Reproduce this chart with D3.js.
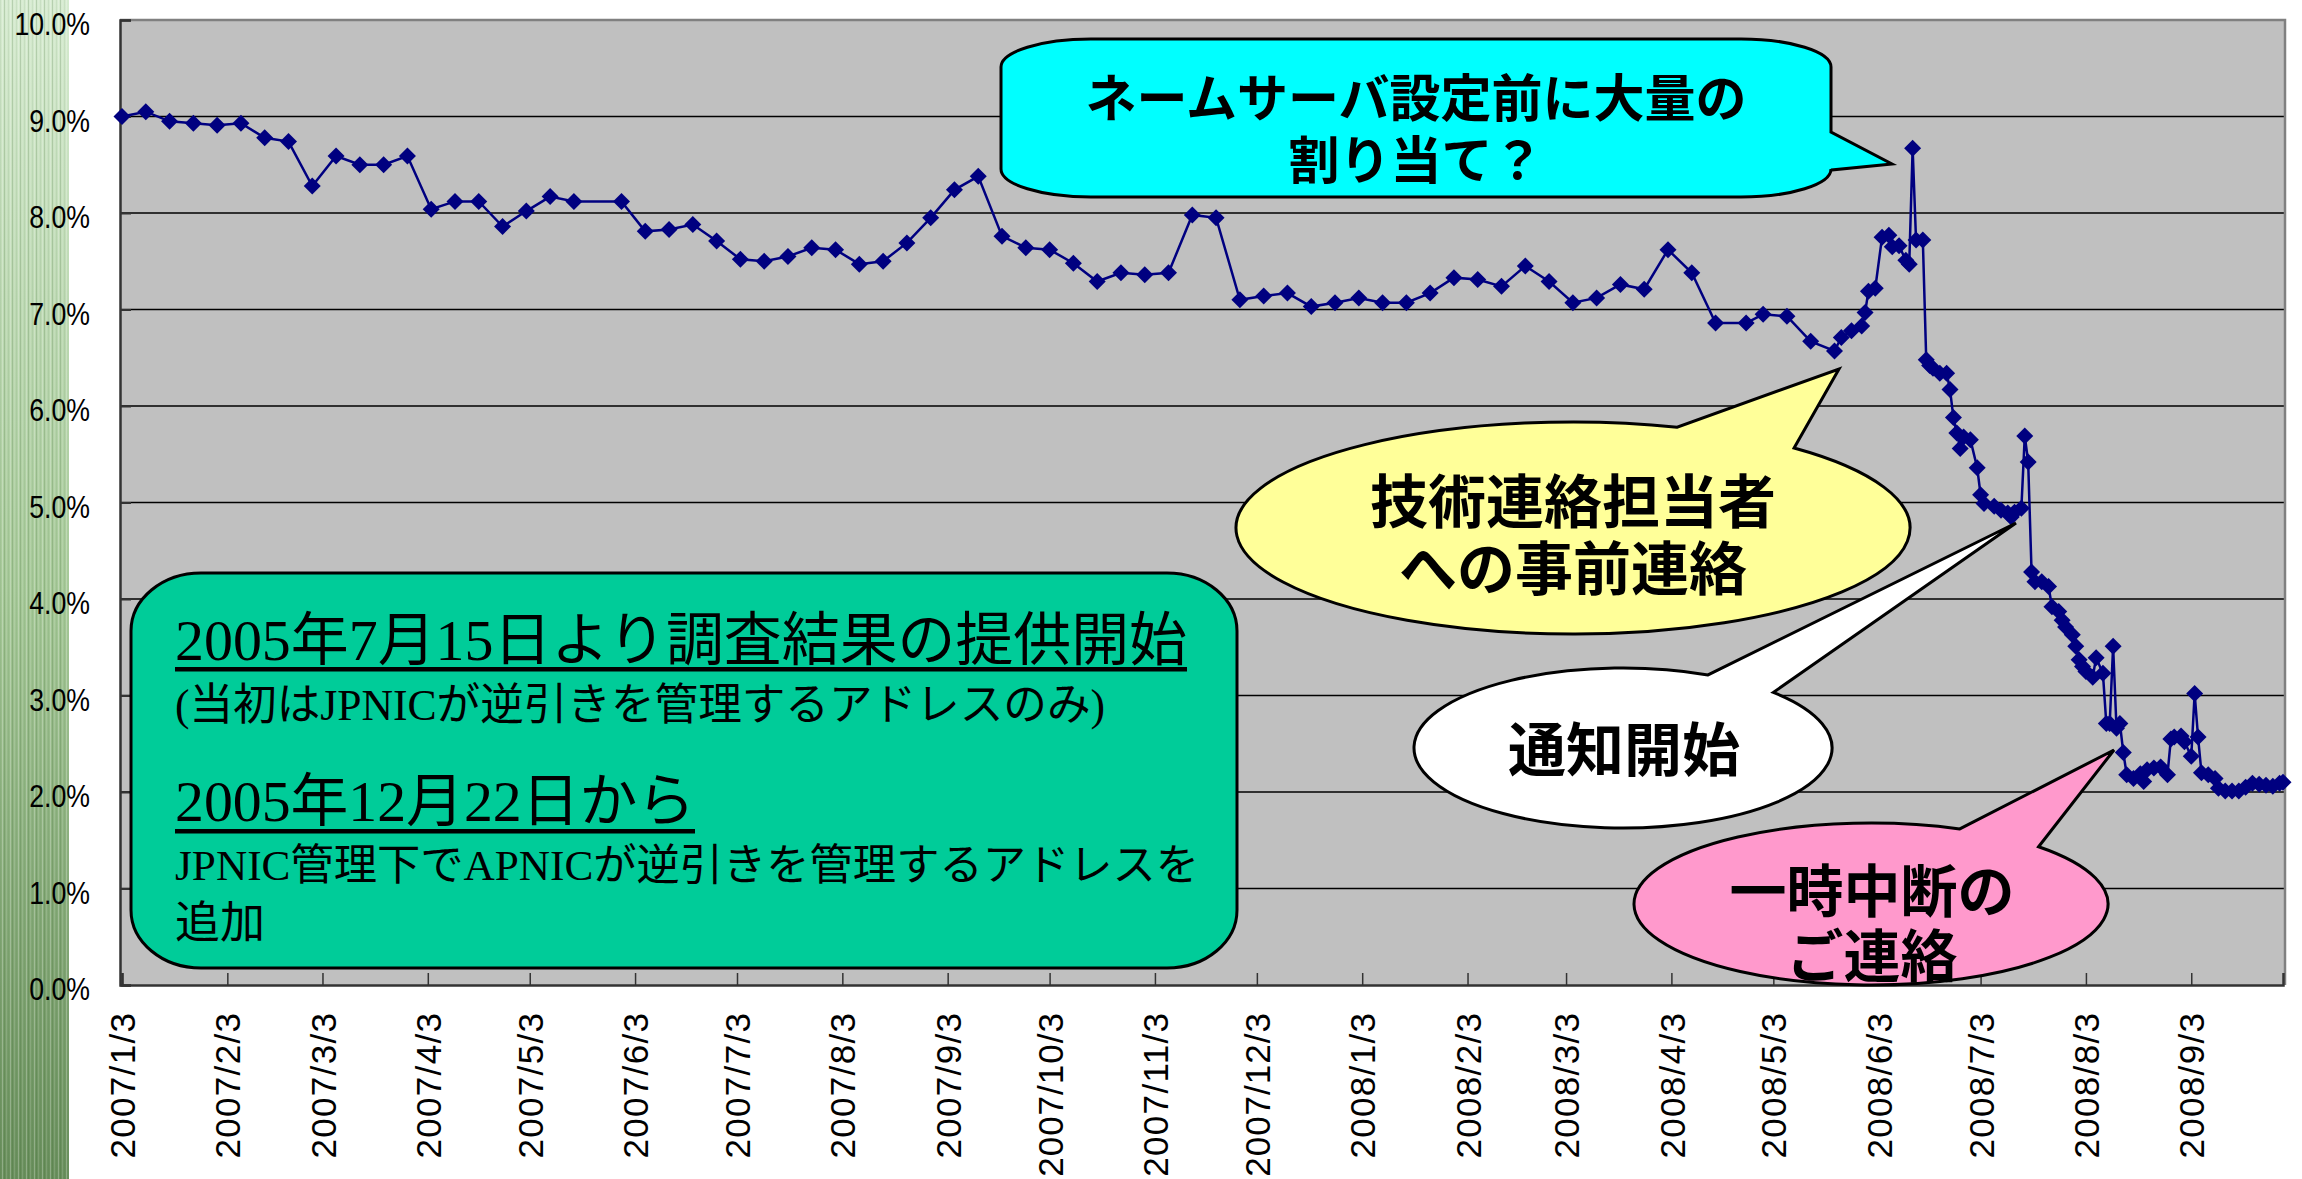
<!DOCTYPE html>
<html lang="ja">
<head>
<meta charset="utf-8">
<title>逆引き未設定率の推移</title>
<script src="https://cdn.jsdelivr.net/npm/d3@7"></script>
<style>
  body { margin: 0; background: #fff; }
  svg { display: block; }
  .yaxis text, .xaxis text { font-family: "Liberation Sans", Arial, sans-serif; fill: #000; }
  .callout text { font-family: "Noto Sans CJK JP", sans-serif; font-weight: bold; fill: #000; }
  .note text { font-family: "Liberation Serif", "Noto Sans CJK JP", serif; fill: #000; }
</style>
</head>
<body>
<svg id="chart" width="2302" height="1179"></svg>
<script>
// weekly values (2007/1/3 - 2008/4/16)
const weeklyDates = ["2007/1/3","2007/1/10","2007/1/17","2007/1/24","2007/1/31","2007/2/7","2007/2/14","2007/2/21","2007/2/28",
  "2007/3/7","2007/3/14","2007/3/21","2007/3/28","2007/4/4","2007/4/11","2007/4/18","2007/4/25","2007/5/2","2007/5/9","2007/5/16",
  "2007/5/30","2007/6/6","2007/6/13","2007/6/20","2007/6/27","2007/7/4","2007/7/11","2007/7/18","2007/7/25","2007/8/1","2007/8/8",
  "2007/8/15","2007/8/22","2007/8/29","2007/9/5","2007/9/12","2007/9/19","2007/9/26","2007/10/3","2007/10/10","2007/10/17",
  "2007/10/24","2007/10/31","2007/11/7","2007/11/14","2007/11/21","2007/11/28","2007/12/5","2007/12/12","2007/12/19","2007/12/26",
  "2008/1/2","2008/1/9","2008/1/16","2008/1/23","2008/1/30","2008/2/6","2008/2/13","2008/2/20","2008/2/27","2008/3/5","2008/3/12",
  "2008/3/19","2008/3/26","2008/4/2","2008/4/9","2008/4/16"];
const weeklyRates = [9.00,9.05,8.95,8.93,8.91,8.93,8.78,8.74,8.28,8.59,8.50,8.50,8.59,8.04,8.12,8.12,7.86,8.02,8.17,8.12,
  8.12,7.81,7.83,7.88,7.71,7.52,7.50,7.55,7.64,7.62,7.47,7.50,7.69,7.95,8.24,8.38,
  7.76,7.64,7.62,7.48,7.29,7.38,7.36,7.38,7.98,7.95,
  7.10,7.14,7.17,7.03,7.07,7.12,7.07,7.07,7.17,7.33,
  7.31,7.24,7.45,7.29,7.07,7.12,7.26,7.21,7.62,7.38,6.86];

// denser values (2008/4/25 - 2008/9/30)
const dailyDates = ["2008/4/25","2008/4/30","2008/5/7","2008/5/14","2008/5/21","2008/5/23","2008/5/26","2008/5/29","2008/5/30",
  "2008/5/31","2008/6/2","2008/6/4","2008/6/6","2008/6/7","2008/6/9","2008/6/11","2008/6/12","2008/6/13","2008/6/14","2008/6/16",
  "2008/6/17","2008/6/18","2008/6/19","2008/6/21","2008/6/23","2008/6/24","2008/6/25","2008/6/26","2008/6/27","2008/6/28",
  "2008/6/30","2008/7/2","2008/7/3","2008/7/4","2008/7/7","2008/7/9","2008/7/11","2008/7/12","2008/7/13","2008/7/15",
  "2008/7/16","2008/7/17","2008/7/18","2008/7/19","2008/7/21","2008/7/23","2008/7/24","2008/7/26","2008/7/27","2008/7/28",
  "2008/7/30","2008/7/31","2008/8/1","2008/8/2","2008/8/3","2008/8/5","2008/8/6","2008/8/8","2008/8/9","2008/8/10",
  "2008/8/11","2008/8/12","2008/8/13","2008/8/14","2008/8/15","2008/8/17","2008/8/19","2008/8/20","2008/8/21","2008/8/23",
  "2008/8/25","2008/8/27","2008/8/28","2008/8/29","2008/8/31","2008/9/1","2008/9/3","2008/9/4","2008/9/5","2008/9/6",
  "2008/9/8","2008/9/10","2008/9/11","2008/9/13","2008/9/15","2008/9/17","2008/9/19","2008/9/21","2008/9/23","2008/9/25",
  "2008/9/27","2008/9/29","2008/9/30"];
const dailyRates = [6.86,6.95,6.93,6.67,6.57,6.71,6.78,6.83,6.97,
  7.19,7.22,7.75,7.77,7.65,7.66,7.51,7.47,8.67,7.72,7.72,
  6.48,6.42,6.39,6.34,6.34,6.17,5.88,5.72,5.56,5.68,
  5.65,5.36,5.08,4.99,4.96,4.92,4.89,4.85,4.90,4.94,
  5.69,5.42,4.28,4.18,4.18,4.13,3.92,3.87,3.78,3.71,
  3.63,3.51,3.37,3.30,3.25,3.19,3.39,3.23,2.71,2.71,
  3.51,2.66,2.71,2.41,2.18,2.14,2.19,2.11,2.23,2.25,
  2.26,2.18,2.55,2.57,2.58,2.52,2.37,3.02,2.57,2.20,
  2.18,2.14,2.04,2.01,2.01,2.01,2.05,2.09,2.08,2.07,
  2.06,2.09,2.10];

const yTicks = [0,1,2,3,4,5,6,7,8,9,10];
const xTickLabels = ["2007/1/3","2007/2/3","2007/3/3","2007/4/3","2007/5/3","2007/6/3","2007/7/3","2007/8/3","2007/9/3",
  "2007/10/3","2007/11/3","2007/12/3","2008/1/3","2008/2/3","2008/3/3","2008/4/3","2008/5/3","2008/6/3","2008/7/3",
  "2008/8/3","2008/9/3"];

const W = 2302, H = 1179;
const plot = { left: 120, right: 2285, top: 20, bottom: 985 };
const parse = d3.timeParse("%Y/%m/%d");

const data = weeklyDates.concat(dailyDates).map((d, i) => ({
  date: parse(d),
  rate: weeklyRates.concat(dailyRates)[i]
}));

const x = d3.scaleTime()
  .domain([parse("2007/1/3"), parse("2008/9/30")])
  .range([122, 2283]);
const y = d3.scaleLinear().domain([0, 10]).range([plot.bottom, plot.top]);

const svg = d3.select("#chart");
const defs = svg.append("defs");

// green side strip
const grad = defs.append("linearGradient").attr("id", "greenGrad")
  .attr("x1", 0).attr("y1", 0).attr("x2", 0).attr("y2", 1);
grad.append("stop").attr("offset", "0%").attr("stop-color", "#d6ebd0");
grad.append("stop").attr("offset", "50%").attr("stop-color", "#a6c998");
grad.append("stop").attr("offset", "100%").attr("stop-color", "#698f5c");

svg.append("rect").attr("x", 0).attr("y", 0).attr("width", 69).attr("height", H)
  .attr("fill", "url(#greenGrad)");
svg.append("g").selectAll("rect")
  .data(d3.range(34))
  .join("rect")
    .attr("x", i => i * 2)
    .attr("y", 0)
    .attr("width", 1)
    .attr("height", H)
    .attr("fill", i => i % 2 ? "#ffffff" : "#2f5a25")
    .attr("opacity", i => 0.07 + 0.06 * ((i * 7) % 4));

// plot area
svg.append("rect")
  .attr("x", plot.left).attr("y", plot.top)
  .attr("width", plot.right - plot.left).attr("height", plot.bottom - plot.top)
  .attr("fill", "#c0c0c0");

svg.append("g").selectAll("line")
  .data(yTicks.filter(t => t > 0 && t < 10))
  .join("line")
    .attr("x1", plot.left).attr("x2", plot.right)
    .attr("y1", d => y(d)).attr("y2", d => y(d))
    .attr("stroke", "#000").attr("stroke-width", 1.3);

// border
svg.append("path")
  .attr("d", `M${plot.left},${plot.top}H${plot.right}V${plot.bottom}`)
  .attr("fill", "none").attr("stroke", "#808080").attr("stroke-width", 2.5);

// axes
const yAxis = svg.append("g").attr("class", "yaxis")
  .attr("transform", `translate(${plot.left},0)`)
  .call(d3.axisLeft(y).tickValues(yTicks).tickSize(-11).tickPadding(30)
    .tickFormat(d => d.toFixed(1) + "%"));
yAxis.select(".domain").attr("stroke", "#333").attr("stroke-width", 2.5);
yAxis.selectAll(".tick line").attr("stroke", "#333").attr("stroke-width", 2);
yAxis.selectAll(".tick text")
  .attr("font-size", 31)
  .attr("dy", "0.48em")
  .each(function () {
    const t = d3.select(this);
    t.attr("textLength", this.getComputedTextLength() * 0.86).attr("lengthAdjust", "spacingAndGlyphs");
  });

const xAxis = svg.append("g").attr("class", "xaxis")
  .attr("transform", `translate(0,${plot.bottom})`)
  .call(d3.axisBottom(x).tickValues(xTickLabels.map(parse)).tickSize(-12)
    .tickFormat(d3.timeFormat("%Y/%-m/%-d")));
xAxis.select(".domain").attr("stroke", "#333").attr("stroke-width", 2.5);
xAxis.selectAll(".tick line").attr("stroke", "#333").attr("stroke-width", 1.5);
xAxis.selectAll(".tick text")
  .attr("font-size", 35)
  .attr("transform", "rotate(-90)")
  .attr("text-anchor", "end")
  .attr("x", -28)
  .attr("y", 0)
  .attr("dy", "0.36em")
  .attr("textLength", d => d3.timeFormat("%Y/%-m/%-d")(d).length * 18.2)
  .attr("lengthAdjust", "spacing");

// data line
const line = d3.line().x(d => x(d.date)).y(d => y(d.rate));
svg.append("path")
  .datum(data)
  .attr("d", line)
  .attr("fill", "none")
  .attr("stroke", "#000080")
  .attr("stroke-width", 2.5);

svg.append("g").selectAll("path")
  .data(data)
  .join("path")
    .attr("transform", d => `translate(${x(d.date)},${y(d.rate)})`)
    .attr("d", "M0,-8.5L8.5,0L0,8.5L-8.5,0Z")
    .attr("fill", "#000080");

// ---- annotations ----
function ellipseCallout(g, o) {
  const rad = a => a * Math.PI / 180;
  const p1 = [o.cx + o.rx * Math.cos(rad(o.a1)), o.cy + o.ry * Math.sin(rad(o.a1))];
  const p2 = [o.cx + o.rx * Math.cos(rad(o.a2)), o.cy + o.ry * Math.sin(rad(o.a2))];
  g.append("path")
    .attr("d", `M${p2}L${o.tip}L${p1}A${o.rx},${o.ry} 0 1 0 ${p2}Z`)
    .attr("fill", o.fill).attr("stroke", "#000").attr("stroke-width", 3);
}

// centred multi-line label, one <text> with a tspan per line
function calloutText(g, cx, lines, size) {
  const t = g.append("text")
    .attr("font-size", size)
    .attr("text-anchor", "middle")
    .attr("dominant-baseline", "central");
  lines.forEach(l => {
    t.append("tspan").attr("x", cx).attr("y", l.y).text(l.text);
  });
}

const callouts = svg.append("g").attr("class", "callout");

// cyan rounded box with tail
{
  const x0 = 1001, y0 = 39, x1 = 1831, y1 = 197, rx = 90, ry = 28;
  callouts.append("path")
    .attr("d", `M${x0 + rx},${y0}H${x1 - rx}A${rx},${ry} 0 0 1 ${x1},${y0 + ry}V132L1892,164L${x1},170` +
      `V${y1 - ry}A${rx},${ry} 0 0 1 ${x1 - rx},${y1}H${x0 + rx}A${rx},${ry} 0 0 1 ${x0},${y1 - ry}` +
      `V${y0 + ry}A${rx},${ry} 0 0 1 ${x0 + rx},${y0}Z`)
    .attr("fill", "#00ffff").attr("stroke", "#000").attr("stroke-width", 3);
  calloutText(callouts, 1416, [
    { text: "ネームサーバ設定前に大量の", y: 95 },
    { text: "割り当て？", y: 157 }
  ], 51);
}

ellipseCallout(callouts, { cx: 1573, cy: 528, rx: 337, ry: 106, a1: -72, a2: -49, tip: [1839, 369], fill: "#ffff99" });
calloutText(callouts, 1573, [
  { text: "技術連絡担当者", y: 498 },
  { text: "への事前連絡", y: 565 }
], 58);

ellipseCallout(callouts, { cx: 1623, cy: 748, rx: 209, ry: 80, a1: -66, a2: -44, tip: [2016, 523], fill: "#ffffff" });
calloutText(callouts, 1624, [{ text: "通知開始", y: 746 }], 58);

ellipseCallout(callouts, { cx: 1871, cy: 904, rx: 237, ry: 81, a1: -68, a2: -45, tip: [2114, 750], fill: "#ff99cc" });
calloutText(callouts, 1872, [
  { text: "一時中断の", y: 887 },
  { text: "ご連絡", y: 952 }
], 57);

// green note box
const note = svg.append("g").attr("class", "note");
{
  const x0 = 131, y0 = 573, x1 = 1237, y1 = 968, rx = 70, ry = 58;
  note.append("path")
    .attr("d", `M${x0 + rx},${y0}H${x1 - rx}A${rx},${ry} 0 0 1 ${x1},${y0 + ry}V${y1 - ry}` +
      `A${rx},${ry} 0 0 1 ${x1 - rx},${y1}H${x0 + rx}A${rx},${ry} 0 0 1 ${x0},${y1 - ry}` +
      `V${y0 + ry}A${rx},${ry} 0 0 1 ${x0 + rx},${y0}Z`)
    .attr("fill", "#00cc99").attr("stroke", "#000").attr("stroke-width", 3);
}
const noteLines = [
  { text: "2005年7月15日より調査結果の提供開始", y: 640, size: 58, len: 1012, under: 669 },
  { text: "(当初はJPNICが逆引きを管理するアドレスのみ)", y: 705, size: 44, len: 930 },
  { text: "2005年12月22日から", y: 801, size: 58, len: 520, under: 831 },
  { text: "JPNIC管理下でAPNICが逆引きを管理するアドレスを", y: 865, size: 43, len: 1024 },
  { text: "追加", y: 923, size: 44, len: 90 }
];
noteLines.forEach(l => {
  note.append("text")
    .attr("x", 175).attr("y", l.y)
    .attr("font-size", l.size)
    .attr("dominant-baseline", "central")
    .attr("textLength", l.len).attr("lengthAdjust", "spacingAndGlyphs")
    .text(l.text);
  if (l.under) {
    note.append("rect").attr("x", 175).attr("y", l.under - 2)
      .attr("width", l.len).attr("height", 4.5).attr("fill", "#000");
  }
});
</script>
</body>
</html>
